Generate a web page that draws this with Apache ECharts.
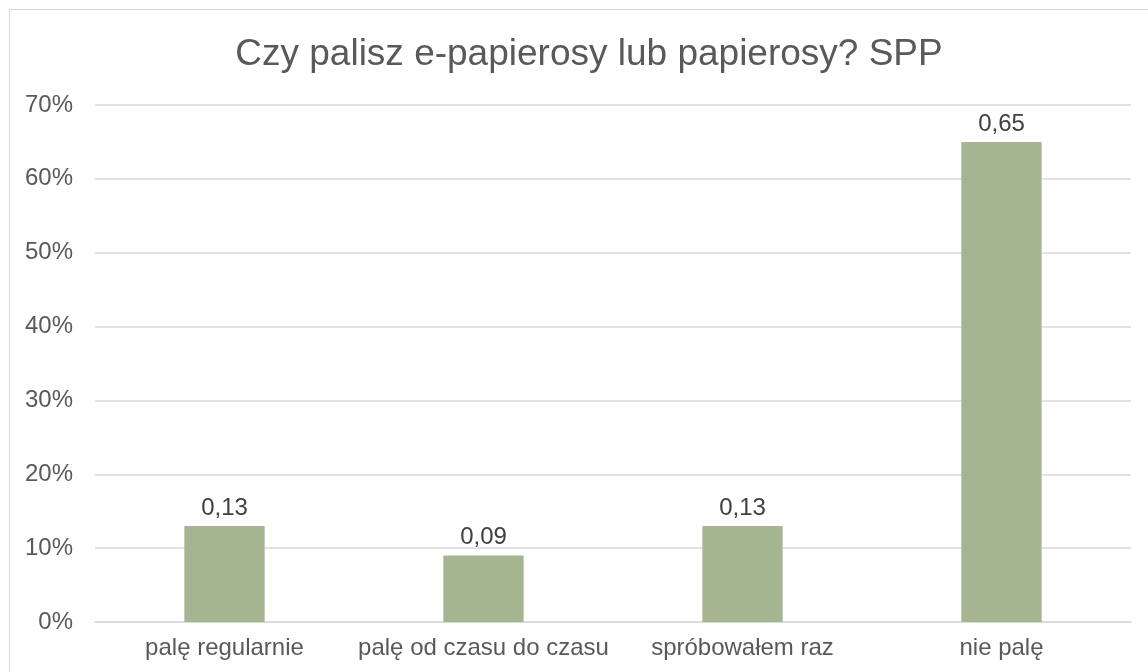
<!DOCTYPE html>
<html>
<head>
<meta charset="utf-8">
<script src="https://cdn.jsdelivr.net/npm/echarts@6/dist/echarts.min.js"></script>
<style>
  html, body { margin: 0; padding: 0; background: #fff; }
  #main { width: 1148px; height: 672px; }
</style>
</head>
<body>
<div id="main"></div>
<script>
// dane z wykresu
const categories = ['palę regularnie', 'palę od czasu do czasu', 'spróbowałem raz', 'nie palę']
const values = [0.13, 0.09, 0.13, 0.65]
const titleText = 'Czy palisz e-papierosy lub papierosy? SPP'

const chart = echarts.init(document.getElementById('main'))

chart.setOption({
    animation: false,
    textStyle: { fontFamily: 'Liberation Sans, Arial, sans-serif' },
    title: {
        text: titleText,
        left: 584,
        textAlign: 'center',
        top: 31,
        textStyle: { fontSize: 37, fontWeight: 'normal', color: '#595959' }
    },
    graphic: [{
        type: 'rect',
        shape: { x: 9.5, y: 9.5, width: 1160, height: 700 },
        style: { fill: 'none', stroke: '#d9d9d9', lineWidth: 1 },
        silent: true
    }],
    grid: { left: 95, right: 17, top: 105, bottom: 50, containLabel: false },
    xAxis: {
        type: 'category',
        data: categories,
        axisTick: { show: false },
        axisLine: { lineStyle: { color: '#d9d9d9', width: 1.5 } },
        axisLabel: { color: '#595959', fontSize: 24, margin: 14, interval: 0 }
    },
    yAxis: {
        type: 'value',
        min: 0,
        max: 0.7,
        interval: 0.1,
        axisLine: { show: false },
        axisTick: { show: false },
        splitLine: { lineStyle: { color: '#d9d9d9', width: 1.5 } },
        axisLabel: {
            color: '#595959',
            fontSize: 24,
            margin: 22,
            formatter: v => Math.round(v * 100) + '%'
        }
    },
    series: [{
        type: 'bar',
        data: values,
        barWidth: '31%',
        itemStyle: { color: '#a5b592' },
        label: {
            show: true,
            position: 'top',
            distance: 6,
            color: '#404040',
            fontSize: 24,
            formatter: p => p.value.toFixed(2).replace('.', ',')
        }
    }]
})
</script>
</body>
</html>
